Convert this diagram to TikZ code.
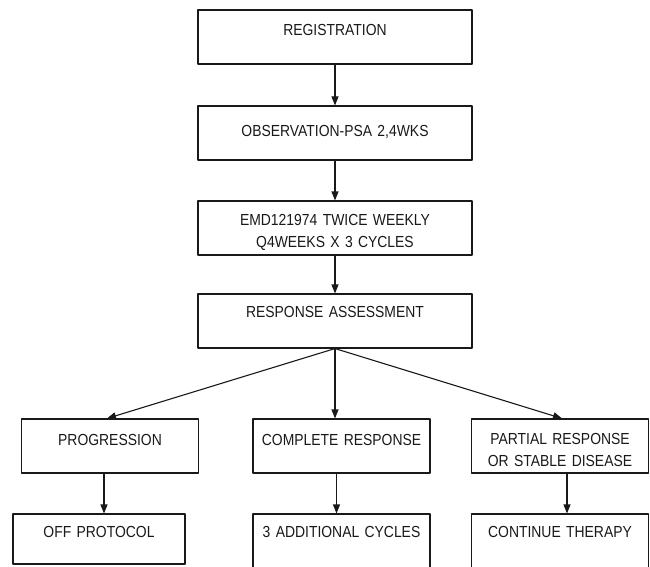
\documentclass[tikz,border=0pt]{standalone}
\usepackage{fontspec}
\setmainfont{Liberation Sans}[FakeStretch=0.87]
\usetikzlibrary{arrows.meta}

\tikzset{
	box/.style={draw,line width=1.1pt,inner sep=0pt,align=center,text height=26pt,text depth=28pt,font=\fontsize{16}{22}\selectfont},
	wide/.style={box,text width=274pt},
	narrow/.style={box,text width=177pt},
	last/.style={narrow,text height=23pt,text depth=31pt}
}

\begin{document}
\begin{tikzpicture}[line cap=round,line join=round,>={Triangle[length=9pt,width=7pt]},x=1pt,y=1pt,line width=1.1pt,black!90]
			\useasboundingbox (0,0) rectangle (650,566);
			\node[wide] (reg) at (335,529) {REGISTRATION};
			\node[wide,text height=31pt,text depth=23pt] (obs) at (335,433) {OBSERVATION-PSA 2,4WKS};
			\node[wide,text height=24pt,text depth=30pt] (emd) at (335,338) {EMD121974 TWICE WEEKLY\\ Q4WEEKS X 3 CYCLES};
			\node[wide,text height=23pt,text depth=31pt] (resp) at (335,245) {RESPONSE ASSESSMENT};
			\node[narrow] (prog) at (110,120) {PROGRESSION};
			\node[narrow] (comp) at (341.5,120) {COMPLETE RESPONSE};
			\node[narrow,text height=25pt,text depth=29pt] (part) at (560,120) {PARTIAL RESPONSE\\OR STABLE DISEASE};
			\node[last,text width=172pt,text depth=27pt] (off) at (99,27) {OFF PROTOCOL};
			\node[last] (add) at (341.5,25) {3 ADDITIONAL CYCLES};
			\node[last] (cont) at (560,25) {CONTINUE THERAPY};
			\draw[->] (reg) -- (obs);
			\draw[->] (obs) -- (emd);
			\draw[->] (emd) -- (resp);
			\draw[->] (resp.south) -- ([xshift=-3pt]prog.north);
			\draw[->] (resp.south) -- (resp.south |- comp.north);
			\draw[->] (resp.south) -- ([xshift=2pt]part.north);
			\draw[->] ([xshift=-6pt]prog.south) -- ([xshift=-6pt]prog.south |- off.north);
			\draw[->] ([xshift=-5pt]comp.south) -- ([xshift=-5pt]comp.south |- add.north);
			\draw[->] ([xshift=7pt]part.south) -- ([xshift=7pt]part.south |- cont.north);
		\end{tikzpicture}
\end{document}
